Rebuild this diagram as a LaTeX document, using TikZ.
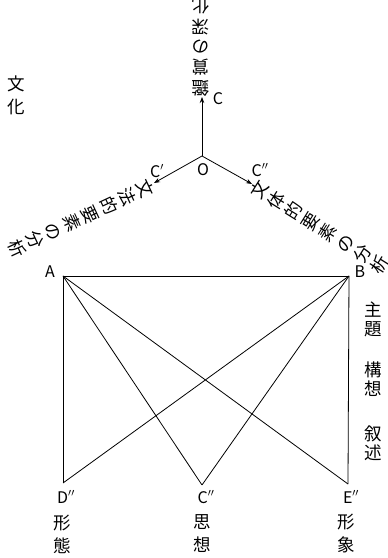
\documentclass[tikz,border=0pt]{standalone}
\usepackage{fontspec}
\setmainfont{Noto Sans CJK JP}
\usepackage{tikz}
\usetikzlibrary{arrows.meta,positioning}

\begin{document}
\begin{tikzpicture}[x=1pt,y=1pt,
  every node/.style={inner sep=0pt},
  edge/.style={line width=0.8pt},
  arr/.style={line width=0.8pt,-{Stealth[length=6pt,width=4.5pt]}},
  lbl/.style={font=\fontsize{16}{16}\selectfont},
  vjp/.style={font=\fontsize{17.5}{20.3}\selectfont,align=center},
  pair/.style={font=\fontsize{17.5}{19}\selectfont,align=center},
  foot/.style={font=\fontsize{17.5}{23}\selectfont,align=center}]

\useasboundingbox (0,0) rectangle (388,558);

% --- 1. centre O and its three arrows
\coordinate (O) at (202,402);
\coordinate (C) at (202,461);
\coordinate (Cs) at (154,375);
\coordinate (Cd) at (252,374);
\draw[arr] (O) -- (C);
\draw[arr] (O) -- (Cs);
\draw[arr] (O) -- (Cd);
\node[lbl] (Olbl) at (203,388) {O};
\node[lbl] (Clbl) at (218,459) {C};
\node[lbl] (Cslbl) at (157,387) {C$'$};
\node[lbl] (Cdlbl) at (260,388) {C$''$};

% --- 2. texts along the arrows
\node[vjp,rotate=180,anchor=north] (deep) at (201,462) {鑑\\賞\\の\\深\\化};
\node[vjp,rotate=-65,anchor=north] (gram) at (153,373) {文\\法\\的\\要\\素\\の\\分\\析};
\node[vjp,rotate=58,anchor=north] (style) at (252,373) {文\\体\\的\\要\\素\\の\\分\\析};
\node[foot] (culture) at (16,463) {文\\化};

% --- 3. the frame A B D'' C'' E''
\coordinate (A) at (63,282);
\coordinate (B) at (349,282);
\coordinate (D) at (63,75);
\coordinate (Cb) at (202,73);
\coordinate (E) at (348,74);
\draw[edge] (A) -- (B);
\draw[edge] (A) -- (D);
\draw[edge] (B) -- (E);
\draw[edge] (A) -- (Cb);
\draw[edge] (A) -- (E);
\draw[edge] (B) -- (D);
\draw[edge] (B) -- (Cb);
\node[lbl] (Albl) at (50,286) {A};
\node[lbl] (Blbl) at (360,286) {B};
\node[lbl] (Dlbl) at (66,61) {D$''$};
\node[lbl] (Cblbl) at (206,61) {C$''$};
\node[lbl] (Elbl) at (351,61) {E$''$};

% --- 4. side and foot labels
\node[pair] (theme) at (373,239) {主\\題};
\node[pair] (plan) at (373,179) {構\\想};
\node[pair] (narr) at (373,115) {叙\\述};
\node[foot] (form) at (62,24) {形\\態};
\node[foot] (thought) at (202,24) {思\\想};
\node[foot] (image) at (346,24) {形\\象};
\end{tikzpicture}
\end{document}
